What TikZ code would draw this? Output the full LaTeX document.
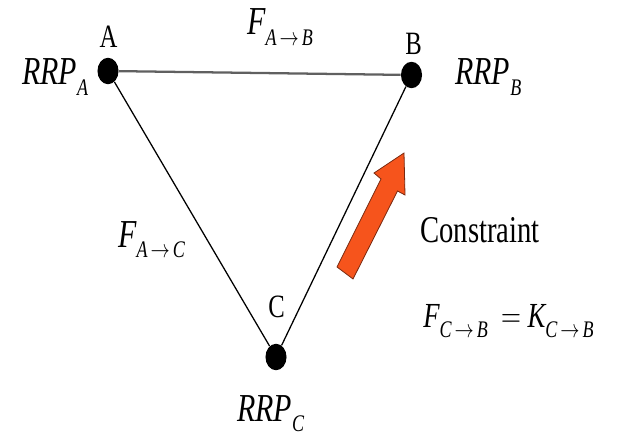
\documentclass[tikz,border=0pt]{standalone}
\usepackage{fontspec}
\setmainfont{Liberation Serif}
\usetikzlibrary{shapes.geometric}
\definecolor{arroworange}{RGB}{246,84,28}
\definecolor{arrowedge}{RGB}{120,40,15}
\newcommand{\stretchy}[1]{\scalebox{1}[1.32]{#1}}
\newcommand{\subtxt}[1]{\raisebox{-6pt}{\fontsize{13.5}{14}\selectfont\itshape #1}}
\newcommand{\arr}{\,$\rightarrow$\,}
\newcommand{\bigit}{\fontsize{22.5}{24}\selectfont\itshape}
\tikzset{
  dot/.style={ellipse, fill=black, draw=none, minimum width=15.8pt, minimum height=19.8pt, inner sep=0pt},
  lbl/.style={inner sep=0pt, anchor=base},
  lblw/.style={inner sep=0pt, anchor=base west},
  edge/.style={draw=black, line width=0.95pt},
  topedge/.style={draw=gray!75!black, line width=1.7pt},
}
\begin{document}
\begin{tikzpicture}[x=0.75pt, y=-0.75pt]
\useasboundingbox (0,0) rectangle (623,438);
% dots
\node[dot] (A) at (108,71) {};
\node[dot] (B) at (411.5,75) {};
\node[dot] (C) at (276,357) {};
% connectors
\draw[topedge] (A) -- (B);
\draw[edge] (A) -- (C);
\draw[edge] (B) -- (C);
% constraint arrow
\filldraw[fill=arroworange, draw=arrowedge, line width=0.6pt, line join=miter]
  (337,267) -- (381,179) -- (374,173) -- (404,153) -- (405,195) -- (397.5,191) -- (353,279) -- cycle;
% vertex letters
\node[lbl] (la) at (108.5,48) {\stretchy{\fontsize{18.5}{20}\selectfont A}};
\node[lbl] (lb) at (413.5,55) {\stretchy{\fontsize{18.5}{20}\selectfont B}};
\node[lbl] (lc) at (276.5,317) {\stretchy{\fontsize{18.5}{20}\selectfont C}};
% RRP labels
\node[lblw] (ra) at (22,85) {\stretchy{\bigit RRP\subtxt{A}}};
\node[lblw] (rb) at (455,85) {\stretchy{\bigit RRP\subtxt{B}}};
\node[lblw] (rc) at (237,421) {\stretchy{\bigit RRP\subtxt{C}}};
% flow labels
\node[lblw] (fab) at (247,35) {\stretchy{\bigit F\subtxt{A\arr B}}};
\node[lblw] (fac) at (118,247) {\stretchy{\bigit F\subtxt{A\arr C}}};
\node[lblw] (con) at (420,242) {\stretchy{\fontsize{21.5}{23}\selectfont Constraint}};
\node[lblw] (eq) at (423,327) {\stretchy{\fontsize{20}{22}\selectfont\itshape F\subtxt{C\arr B}\hspace{10pt}$=$\hspace{5pt}K\subtxt{C\arr B}}};
\end{tikzpicture}
\end{document}
